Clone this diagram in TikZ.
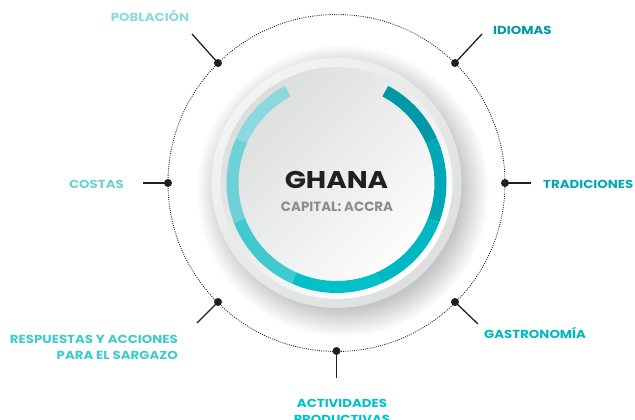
\documentclass[tikz,border=0pt]{standalone}
\usepackage{fontspec}
\setmainfont{Poppins}
\newfontfamily\widefont{Poppins}[FakeStretch=1.15]
\definecolor{ink}{HTML}{231F20}
\definecolor{cA}{HTML}{0097A6}
\definecolor{cB}{HTML}{00A8B5}
\definecolor{cC}{HTML}{00B8C2}
\definecolor{cD}{HTML}{00C1C8}
\definecolor{cE}{HTML}{40C9CE}
\definecolor{cF}{HTML}{6DD1D6}
\definecolor{cG}{HTML}{8BD9DE}
\definecolor{capgray}{HTML}{8C8C8C}
\definecolor{rimlight}{HTML}{F3F3F3}
\definecolor{rimdark}{HTML}{DDDEDE}
\definecolor{facegray}{HTML}{DCDDDD}
\begin{document}
\begin{tikzpicture}[x=1pt,y=1pt,
  dotnode/.style={circle,fill=ink,inner sep=0pt,minimum size=8pt},
  spoke/.style={draw=ink,line width=1.3pt},
  lbl/.style={font=\widefont\bfseries\fontsize{11.6}{16}\selectfont, inner sep=0pt},
  seg/.style={line width=12pt}]
\useasboundingbox (0,0) rectangle (635,-420);
\coordinate (C) at (336.5,-183);
% dotted orbit
\draw[ink, line width=0.9pt, dash pattern=on 0.9pt off 1.3pt] (C) circle[radius=168.5];
% soft shadow
\foreach \r in {118,...,146} {\fill[black, opacity=0.006] (343,-191) circle[radius=\r];}
% disc
\shade[top color=rimlight, bottom color=rimdark, shading angle=45] (C) circle[radius=125];
\shade[top color=facegray, bottom color=white, shading angle=45] (C) circle[radius=116];
% ring segments
\draw[seg, cA] (C) ++(62:104) arc[start angle=62, end angle=24, radius=104];
\draw[seg, cB] (C) ++(24:104) arc[start angle=24, end angle=-21, radius=104];
\draw[seg, cC] (C) ++(-21:104) arc[start angle=-21, end angle=-66, radius=104];
\draw[seg, cD] (C) ++(-66:104) arc[start angle=-66, end angle=-114, radius=104];
\draw[seg, cE] (C) ++(-114:104) arc[start angle=-114, end angle=-159, radius=104];
\draw[seg, cF] (C) ++(-159:104) arc[start angle=-159, end angle=-204, radius=104];
\draw[seg, cG] (C) ++(-204:104) arc[start angle=-204, end angle=-242, radius=104];
% centre text
\node[font=\widefont\bfseries\fontsize{24.2}{26}\selectfont, text=ink, inner sep=0pt, anchor=base] (title) at (336.5,-188) {GHANA};
\node[font=\bfseries\fontsize{13.4}{15}\selectfont, text=capgray, inner sep=0pt, anchor=base] (capital) at (337,-211) {CAPITAL: ACCRA};
% dots
\node[dotnode] (dP) at (218,-63) {};
\node[dotnode] (dI) at (455,-63) {};
\node[dotnode] (dT) at (505,-183) {};
\node[dotnode] (dC) at (168,-183) {};
\node[dotnode] (dG) at (455,-302) {};
\node[dotnode] (dR) at (218,-302) {};
\node[dotnode] (dA) at (336.5,-351) {};
% spoke ends
\coordinate (eP) at (192,-34);
\coordinate (eI) at (482,-34);
\coordinate (eT) at (531,-183);
\coordinate (eC) at (143,-183);
\coordinate (eG) at (478,-324);
\coordinate (eR) at (197,-323);
\coordinate (eA) at (336.5,-378);
\draw[spoke] (dP.center) -- (eP);
\draw[spoke] (dI.center) -- (eI);
\draw[spoke] (dT.center) -- (eT);
\draw[spoke] (dC.center) -- (eC);
\draw[spoke] (dG.center) -- (eG);
\draw[spoke] (dR.center) -- (eR);
\draw[spoke] (dA.center) -- (eA);
% labels
\node[lbl, text=cG, anchor=base] (lP) at (150,-22) {POBLACIÓN};
\node[lbl, text=cA, anchor=base west] (lI) at (493,-35) {IDIOMAS};
\node[lbl, text=cB, anchor=base west] (lT) at (543,-188) {TRADICIONES};
\node[lbl, text=cF, anchor=base east] (lC) at (124,-188) {COSTAS};
\node[lbl, text=cC, anchor=base west] (lG) at (484,-338) {GASTRONOMÍA};
\node[lbl, text=cE, anchor=base east, align=right] (lR) at (178,-359) {RESPUESTAS Y ACCIONES\\PARA EL SARGAZO};
\node[lbl, text=cD, anchor=base, align=center] (lA) at (342,-423) {ACTIVIDADES\\PRODUCTIVAS};
\end{tikzpicture}
\end{document}
